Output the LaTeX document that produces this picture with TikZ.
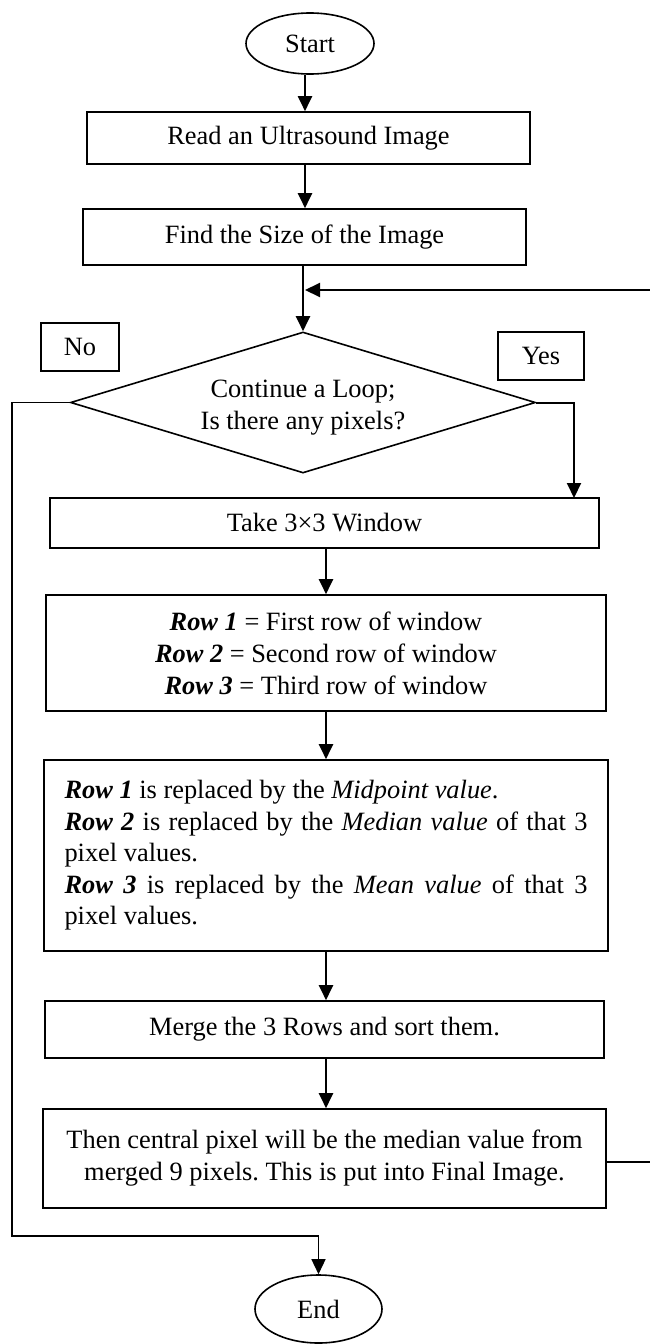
\documentclass[tikz,border=0pt]{standalone}
\usepackage{fontspec}
\setmainfont{Liberation Serif}
\usetikzlibrary{shapes.geometric,arrows.meta}
\begin{document}
\begin{tikzpicture}[x=0.5pt,y=-0.5pt,
  every node/.style={font=\fontsize{13.2}{16}\selectfont\frenchspacing},
  box/.style={draw,line width=0.8pt,inner sep=0pt,align=center},
  term/.style={draw,ellipse,line width=0.8pt,inner sep=0pt},
  arr/.style={line width=1pt,-{Triangle[length=7.5pt,width=7pt]}},
  thin arr/.style={line width=0.7pt,-{Triangle[length=7.5pt,width=7pt]}},
  ln/.style={line width=1pt}]
\useasboundingbox (0,0) rectangle (649,1344);

\node[term,minimum width=128*0.5pt,minimum height=61*0.5pt] (start) at (310,43.5) {Start};
\node[box,minimum width=443*0.5pt,minimum height=52*0.5pt] (read) at (308.5,138) {Read an Ultrasound Image};
\node[box,minimum width=443*0.5pt,minimum height=56*0.5pt] (find) at (304.5,237) {Find the Size of the Image};
\node[draw,diamond,line width=0.8pt,inner sep=0pt,aspect=3.3,minimum width=465*0.5pt,minimum height=141*0.5pt,align=center] (dec) at (303,402.5) {\rule{0pt}{14pt}Continue a Loop;\\Is there any pixels?};
\node[box,minimum width=78*0.5pt,minimum height=48*0.5pt] (no) at (80,347) {No};
\node[box,minimum width=86*0.5pt,minimum height=48*0.5pt] (yes) at (541,356) {Yes};
\node[box,minimum width=549*0.5pt,minimum height=50*0.5pt] (take) at (324.5,523) {Take 3×3 Window};
\node[box,minimum width=560*0.5pt,minimum height=116*0.5pt] (rows) at (326,653)
  {\textbf{\textit{Row 1}} = First row of window\\
   \textbf{\textit{Row 2}} = Second row of window\\
   \textbf{\textit{Row 3}} = Third row of window};
\node[box,minimum width=564*0.5pt,minimum height=191*0.5pt,align=left,text width=261.5pt,
      font=\fontsize{13.2}{15.75}\selectfont\frenchspacing] (rep) at (326,855.5)
  {\spaceskip=0pt \xspaceskip=0pt
   \textbf{\textit{Row 1}} is replaced by the \textit{Midpoint value}.\\
   \makebox[261.5pt][s]{\textbf{\textit{Row 2}} is replaced by the \textit{Median value} of that 3}\\
   pixel values.\\
   \makebox[261.5pt][s]{\textbf{\textit{Row 3}} is replaced by the \textit{Mean value} of that 3}\\
   pixel values.};
\node[box,minimum width=559*0.5pt,minimum height=57*0.5pt] (merge) at (324.5,1029.5) {Merge the 3 Rows and sort them.};
\node[box,minimum width=563*0.5pt,minimum height=99*0.5pt] (then) at (324.5,1158.5)
  {Then central pixel will be the median value from\\merged 9 pixels. This is put into Final Image.};
\node[term,minimum width=127*0.5pt,minimum height=68*0.5pt] (end) at (318.5,1309) {End};

\coordinate (fb) at (653,290);
\coordinate (nl) at (12,1236);
\coordinate (yt) at (574,498);

\draw[arr] ([xshift=-2.5pt]start.south) -- ([xshift=-2.5pt]start.south |- read.north);
\draw[arr] ([xshift=-1.75pt]read.south) -- ([xshift=-1.75pt]read.south |- find.north);
\draw[arr] (find.south -| dec.north) -- (dec.north);
\draw[arr] ([yshift=-1.75pt]then.east) -| (fb) -- ([xshift=1pt]fb -| dec.north);
\draw[thin arr] (dec.west) -| (nl) -| (end.north);
\draw[arr] (dec.east) -| (yt);
\draw[arr] (take.south -| rows.north) -- (rows.north);
\draw[arr] (rows.south) -- (rep.north);
\draw[arr] (rep.south) -- (rep.south |- merge.north);
\draw[arr] (merge.south -| rep.south) -- (rep.south |- then.north);
\end{tikzpicture}
\end{document}
